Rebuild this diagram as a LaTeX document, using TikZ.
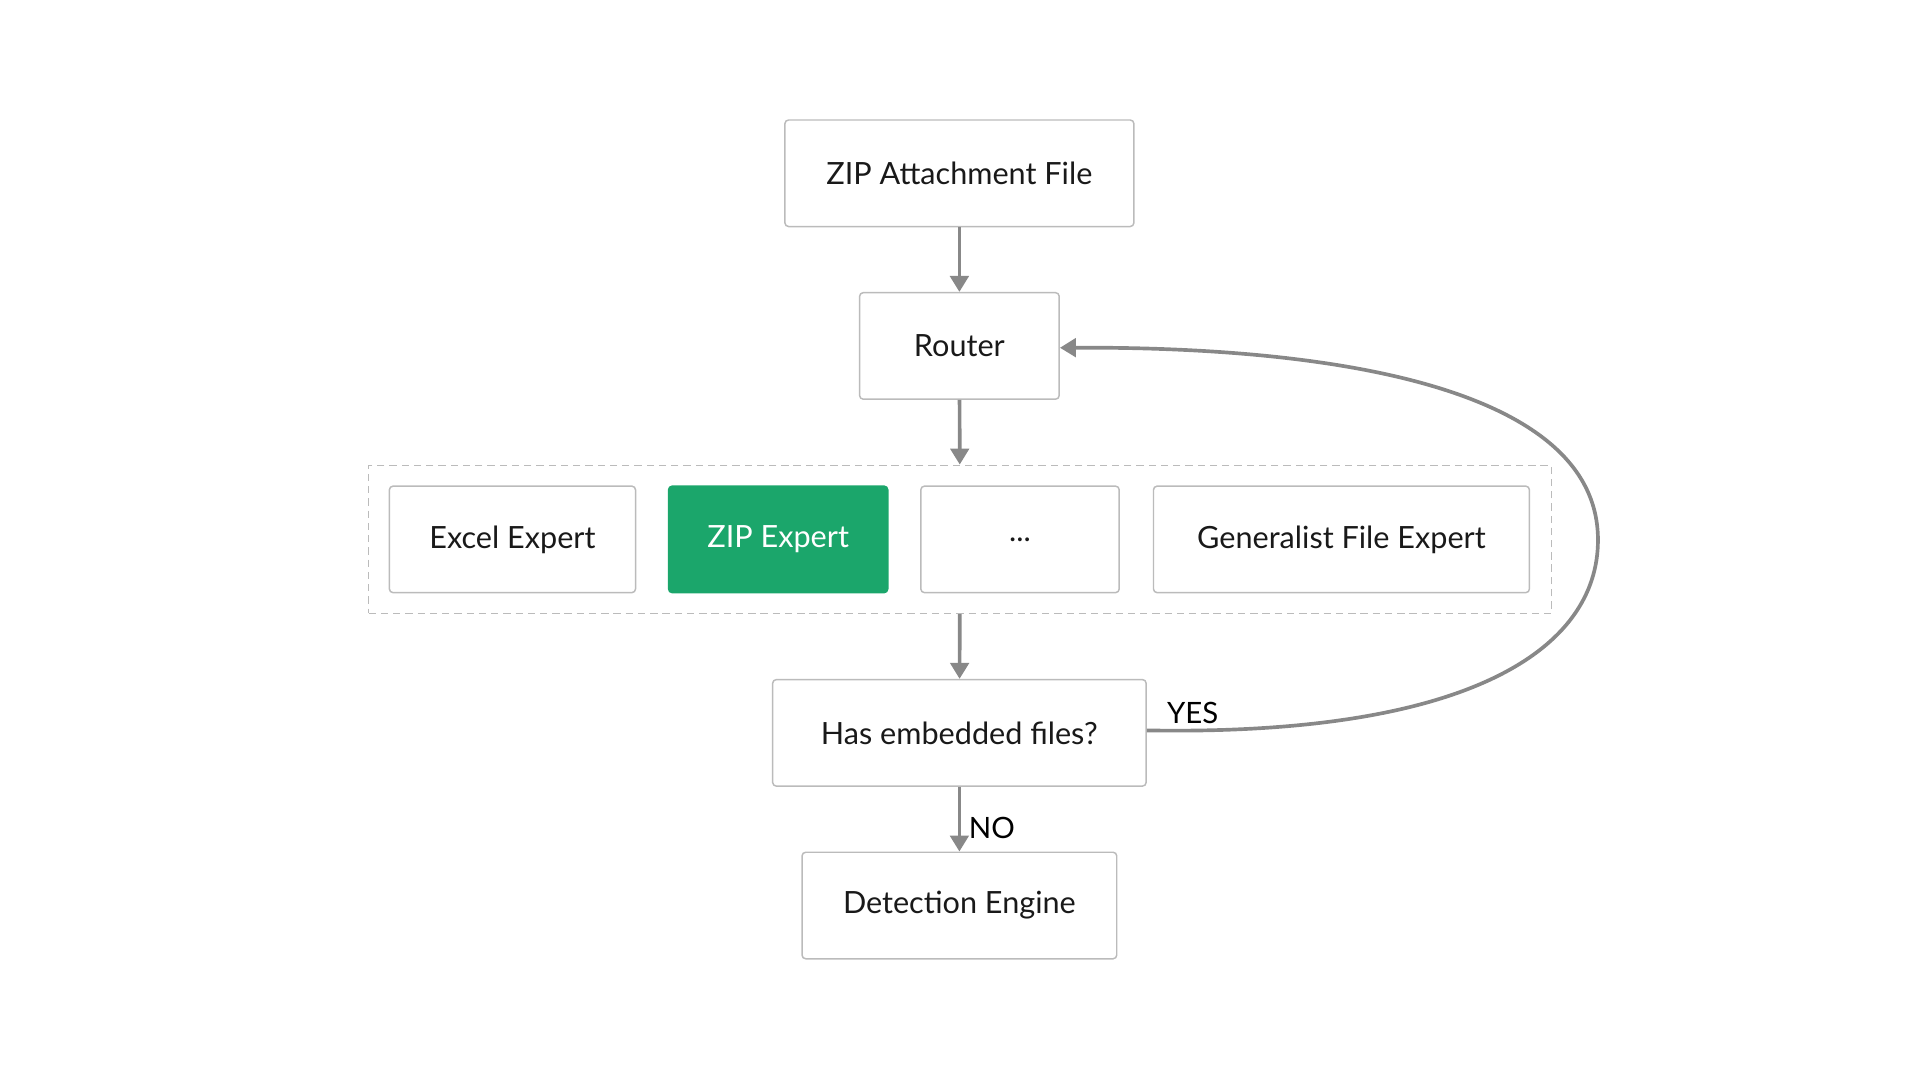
\documentclass[tikz,border=0pt]{standalone}
\usepackage{fontspec}
\setmainfont{Lato}
\usetikzlibrary{arrows.meta}
\definecolor{edge}{HTML}{888888}
\definecolor{bord}{HTML}{BBBBBB}
\definecolor{zipg}{HTML}{1BA66B}
\begin{document}
\begin{tikzpicture}[x=1pt,y=-1pt,
 box/.style={draw=bord,line width=1.2pt,rounded corners=3pt,minimum height=87pt,inner sep=0pt,font=\fontsize{25}{30}\selectfont,text=black!90},
 arr/.style={draw=edge,line width=3pt,-{Triangle[length=13pt,width=15pt]}},
 lbl/.style={font=\fontsize{24}{28}\selectfont}]
\useasboundingbox (0,0) rectangle (1568,882);
\node[box,minimum width=285pt] (zip) at (783.5,141.5) {ZIP Attachment File};
\node[box,minimum width=163pt] (router) at (783.5,282.5) {Router};
\node[draw=bord,dashed,line width=1.2pt,dash pattern=on 6pt off 4pt,minimum width=966pt,minimum height=121pt,inner sep=0pt] (group) at (784,440.5) {};
\node[box,minimum width=201pt] (excel) at (418.5,440.5) {Excel Expert};
\node[box,minimum width=179pt,fill=zipg,draw=zipg,text=white] (zipe) at (635.5,440.5) {ZIP Expert};
\node[box,minimum width=162pt] (dots) at (833,440.5) {...};
\node[box,minimum width=307pt] (gen) at (1095.5,440.5) {Generalist File Expert};
\node[box,minimum width=305pt] (has) at (783.5,598.5) {Has embedded files?};
\node[box,minimum width=257pt] (det) at (783.5,739.5) {Detection Engine};
\draw[arr] (zip) -- (router);
\draw[arr] (router) -- (group);
\draw[arr] (group) -- (has);
\draw[arr] (has) -- node[lbl,right,xshift=3pt,yshift=-7pt]{NO} (det);
\coordinate (far) at (1305,441);
\draw[arr] ([yshift=2pt]has.east) .. controls (1200,601) and (1305,530) .. (far) .. controls (1305,320) and (1100,283) .. ([yshift=-1.5pt]router.east);
\node[lbl] (yes) at (974,582) {YES};
\end{tikzpicture}
\end{document}
